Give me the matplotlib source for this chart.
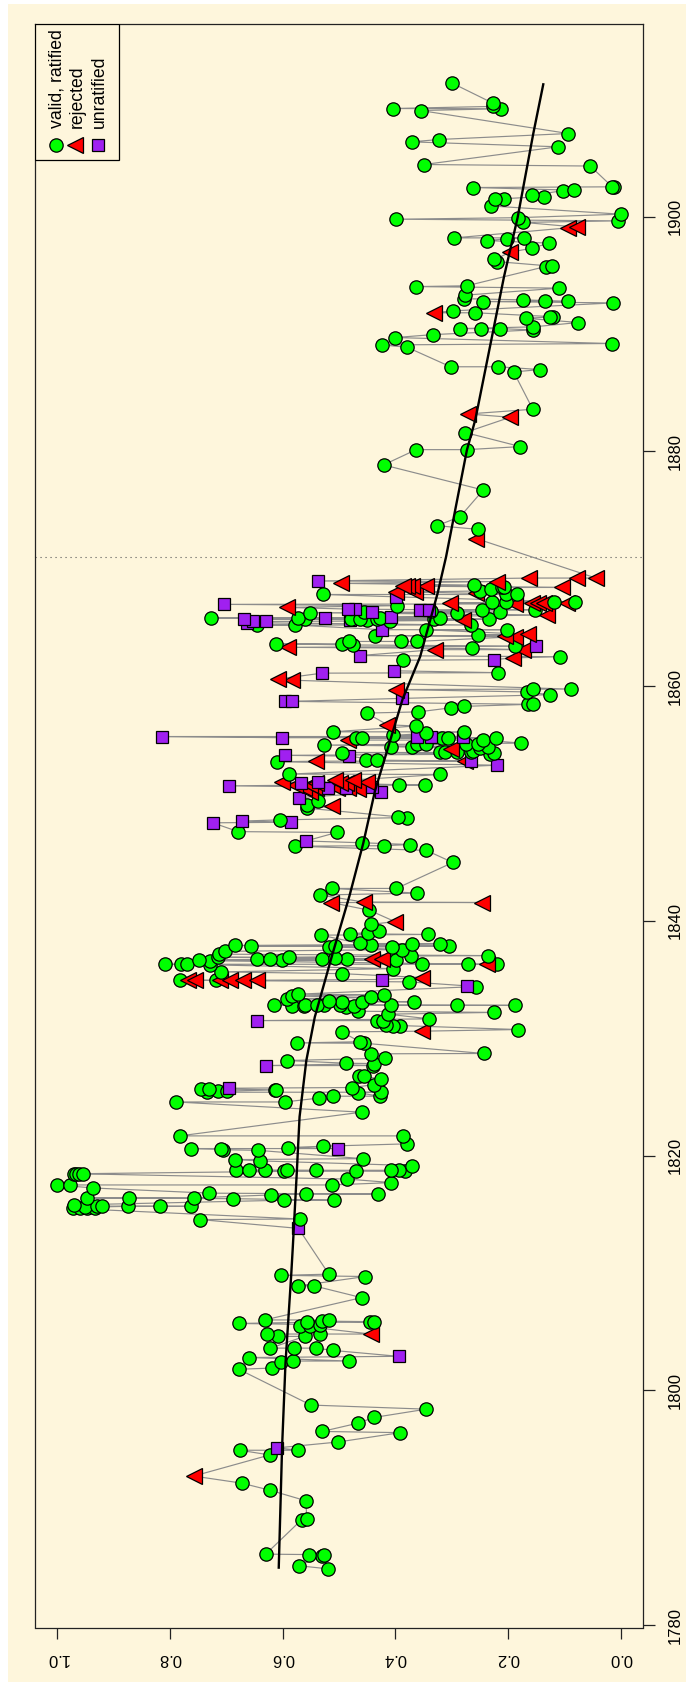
import numpy as np
import matplotlib
matplotlib.use("Agg")
import matplotlib.pyplot as plt
from matplotlib.patches import Rectangle

plt.rcParams['font.family'] = ['Liberation Sans', 'DejaVu Sans']

# (year, value)
valid_ratified = [
(1784.8,.520),(1785.06,.571),(1785.9,.530),(1786.0,.527),(1785.97,.554),(1786.05,.630),(1789.0,.566),(1789.03,.557),
(1790.6,.559),(1791.5,.623),(1792.1,.673),(1794.5,.623),(1794.9,.676),(1794.9,.572),(1795.6,.502),(1796.4,.391),
(1796.5,.530),(1797.2,.467),(1797.7,.437),(1798.4,.345),(1798.75,.550),(1801.8,.678),(1801.9,.619),(1802.4,.603),
(1802.5,.582),(1802.5,.482),(1802.8,.659),(1803.4,.510),(1803.6,.541),(1803.6,.580),(1803.6,.622),(1804.6,.561),
(1804.6,.608),(1804.8,.627),(1804.8,.533),(1805.5,.570),(1805.5,.552),(1805.6,.533),(1805.7,.678),(1805.8,.557),
(1805.9,.530),(1805.8,.445),(1805.85,.437),(1806.0,.518),(1806.0,.632),(1807.9,.460),(1808.9,.544),(1808.9,.572),
(1809.7,.453),(1809.9,.518),(1809.8,.603),
(1814.55,.746),(1814.6,.570),
(1815.5,.973),(1815.5,.960),(1815.5,.948),(1815.5,.933),(1815.6,.950),(1815.7,.930),(1815.7,.921),(1815.8,.971),
(1815.68,.874),(1815.68,.818),(1815.68,.763),(1816.2,.597),(1816.2,.508),(1816.33,.688),(1816.4,.948),(1816.4,.872),
(1816.4,.757),(1816.65,.620),(1816.73,.558),(1816.73,.431),(1816.8,.730),(1817.24,.936),(1817.5,1.000),(1817.5,.977),
(1817.5,.513),(1817.7,.407),(1818.0,.485),(1818.46,.971),(1818.46,.967),(1818.46,.961),(1818.46,.955),(1818.75,.682),
(1818.75,.660),(1818.75,.632),(1818.66,.597),(1818.75,.592),(1818.75,.540),(1818.7,.469),(1818.8,.407),(1818.75,.393),
(1818.7,.382),(1819.15,.370),(1819.66,.684),(1819.55,.641),(1819.74,.458),(1820.6,.763),(1820.54,.710),(1820.5,.706),
(1820.45,.644),(1820.68,.591),(1820.8,.528),(1821.0,.380),(1821.68,.387),(1821.68,.783),(1823.7,.460),(1824.57,.789),
(1824.57,.596),(1824.9,.536),(1825.06,.511),(1825.06,.428),(1825.37,.467),(1825.4,.426),(1825.8,.477),(1826.05,.437),
(1825.7,.745),(1825.4,.735),(1825.7,.731),(1825.5,.714),(1825.5,.698),(1825.6,.614),(1825.6,.611),(1826.56,.426),
(1826.8,.455),(1826.76,.465),(1827.67,.439),(1827.84,.438),(1827.87,.488),(1828.1,.593),(1828.3,.418),(1828.67,.443),
(1828.7,.243),(1829.57,.455),(1829.7,.463),(1829.6,.574),(1830.54,.495),(1830.74,.182),(1831.08,.392),(1831.08,.405),
(1831.1,.417),(1831.5,.432),(1831.5,.422),(1831.65,.340),(1832.05,.413),(1832.2,.224),(1832.8,.615),(1832.75,.583),
(1832.75,.562),(1832.85,.561),(1832.85,.539),(1832.8,.526),(1833.2,.517),(1833.1,.495),(1832.8,.498),(1832.7,.488),
(1832.75,.474),(1832.3,.467),(1833.1,.460),(1833.47,.443),(1833.7,.420),(1832.8,.407),(1833.1,.366),(1832.8,.291),
(1832.8,.187),(1833.35,.592),(1833.6,.584),(1833.75,.573),(1834.4,.257),(1834.8,.376),(1835.5,.495),(1834.94,.782),
(1834.94,.719),(1835.65,.709),(1836.3,.809),(1836.3,.781),(1836.3,.769),(1836.25,.729),(1836.7,.749),(1836.6,.729),
(1836.9,.714),(1837.16,.713),(1837.4,.703),(1837.9,.685),(1837.84,.657),(1836.73,.645),(1836.73,.622),(1836.7,.601),
(1836.9,.588),(1836.73,.530),(1836.8,.507),(1836.73,.485),(1836.65,.399),(1835.93,.404),(1836.3,.352),(1836.3,.271),
(1837.04,.235),(1836.3,.219),(1837.8,.518),(1837.85,.507),(1838.07,.463),(1837.98,.444),(1837.8,.406),(1837.55,.389),
(1837.0,.373),(1838.0,.371),(1838.05,.320),(1837.85,.304),(1838.78,.532),(1838.9,.481),(1838.84,.342),(1839.0,.448),
(1839.12,.429),(1839.69,.444),(1840.9,.446),(1842.2,.534),(1842.36,.361),(1842.76,.513),(1842.76,.398),(1844.97,.298),
(1846.0,.345),(1846.5,.374),(1846.4,.420),(1846.65,.459),(1846.36,.578),(1847.53,.504),(1847.6,.679),(1848.6,.605),
(1848.86,.395),(1848.8,.379),(1850.2,.537),(1849.9,.557),(1849.6,.557),(1851.6,.393),(1851.56,.348),(1852.47,.320),
(1852.5,.588),(1853.55,.610),(1853.7,.452),(1853.7,.433),(1854.34,.495),(1854.97,.526),(1854.83,.407),(1854.83,.371),
(1855.05,.362),(1855.1,.346),(1854.4,.321),(1854.4,.312),(1854.4,.291),(1854.4,.265),(1854.2,.232),(1854.34,.225),
(1854.5,.262),(1854.7,.250),(1854.83,.235),(1855.05,.274),(1855.4,.244),(1855.6,.222),(1855.1,.253),(1855.14,.177),
(1855.55,.470),(1855.6,.459),(1855.8,.404),(1855.96,.346),(1855.55,.317),(1855.6,.306),(1856.1,.279),(1856.1,.511),
(1856.6,.364),(1857.7,.451),(1857.8,.359),(1858.15,.301),(1858.27,.278),(1858.44,.164),(1858.44,.156),(1859.26,.126),
(1859.5,.166),(1859.74,.155),(1859.74,.089),(1861.14,.217),(1862.2,.386),(1862.5,.107),(1863.2,.264),(1863.4,.188),
(1863.6,.611),(1863.6,.495),(1863.8,.482),(1863.5,.475),(1863.8,.390),(1863.8,.362),(1864.3,.436),(1864.35,.253),
(1864.8,.346),(1864.8,.201),(1865.2,.578),(1865.2,.646),(1865.2,.265),(1865.7,.560),(1865.8,.572),(1865.8,.728),
(1865.7,.478),(1865.75,.463),(1865.65,.451),(1865.8,.428),(1865.75,.433),(1865.55,.410),(1865.7,.331),(1865.8,.321),
(1865.7,.233),(1866.25,.552),(1866.28,.456),(1866.25,.290),(1866.4,.336),(1866.3,.215),(1866.5,.247),(1866.5,.152),
(1866.85,.397),(1867.16,.228),(1867.16,.203),(1867.2,.118),(1867.16,.081),(1867.8,.528),(1867.8,.204),(1867.8,.184),
(1868.1,.249),(1868.3,.231),(1868.4,.211),(1868.45,.208),(1868.6,.260),
(1873.35,.253),(1873.66,.326),(1874.43,.285),(1876.7,.244),(1878.84,.421),(1880.14,.363),(1880.14,.273),(1880.4,.178),
(1881.6,.276),(1883.58,.156),(1886.96,.143),(1886.76,.190),(1887.2,.217),(1887.2,.302),(1888.86,.379),(1889.06,.423),
(1889.18,.016),(1889.69,.400),(1889.94,.333),(1890.34,.155),(1890.6,.155),(1890.45,.214),(1890.45,.248),(1890.45,.286),
(1890.97,.075),(1891.33,.168),(1891.48,.126),(1891.45,.120),(1891.96,.298),(1891.8,.258),(1892.64,.013),(1892.78,.093),
(1892.84,.134),(1892.9,.174),(1892.76,.245),(1893.0,.279),(1893.3,.276),(1893.9,.109),(1894.1,.273),(1894.03,.363),
(1895.74,.133),(1895.77,.122),(1896.16,.220),(1896.34,.224),(1897.3,.158),(1897.73,.127),(1898.18,.171),(1898.1,.202),
(1897.95,.237),(1898.18,.295),(1899.5,.173),(1899.63,.005),(1899.77,.398),(1899.9,.183),(1900.2,.000),(1900.9,.231),
(1901.48,.207),(1901.48,.223),(1901.82,.158),(1901.7,.136),(1902.2,.102),(1902.24,.083),(1902.53,.012),(1902.53,.015),
(1902.47,.263),(1904.3,.054),(1904.43,.349),(1905.94,.111),(1906.36,.371),(1906.56,.323),(1907.07,.093),(1909.03,.355),
(1909.18,.212),(1909.2,.405),(1909.38,.226),(1909.66,.227),(1911.36,.299),
]

rejected = [
(1792.7,.758),(1804.8,.444),(1830.6,.352),(1834.94,.768),(1834.94,.756),(1834.94,.711),(1834.94,.694),(1834.94,.670),
(1834.94,.646),(1835.17,.352),(1836.73,.442),(1836.73,.423),(1836.3,.238),(1839.94,.401),(1841.56,.514),(1841.6,.456),
(1841.56,.246),(1849.75,.512),(1851.8,.602),(1852.0,.507),(1852.0,.476),(1851.85,.451),(1851.7,.487),(1851.7,.498),
(1851.55,.578),(1851.55,.552),(1851.7,.540),(1851.3,.563),(1851.0,.552),(1851.3,.540),(1851.3,.504),(1851.2,.466),
(1851.3,.484),(1853.6,.540),(1853.6,.277),(1854.6,.302),(1855.4,.484),(1856.7,.414),(1859.7,.398),(1860.6,.609),
(1860.5,.584),(1862.4,.191),(1863.1,.330),(1863.1,.174),(1863.3,.590),(1864.2,.188),(1864.3,.206),(1864.4,.164),
(1865.6,.280),(1866.05,.130),(1866.7,.593),(1867.0,.188),(1867.1,.303),(1867.1,.158),(1867.1,.146),(1867.1,.137),
(1867.1,.096),(1867.9,.256),(1868.0,.365),(1868.0,.398),(1868.4,.104),(1868.5,.345),(1868.5,.371),(1868.5,.380),
(1868.5,.386),(1868.75,.497),(1868.9,.219),(1869.2,.162),(1869.2,.077),(1869.2,.044),(1872.56,.256),(1882.9,.196),
(1883.18,.271),(1891.8,.331),(1896.96,.196),(1899.03,.094),(1899.1,.078),
]

unratified = [
(1795.1,.610),(1802.9,.394),(1813.8,.572),(1820.6,.502),(1825.74,.695),(1827.67,.630),(1831.5,.646),(1834.46,.273),
(1835.0,.424),(1846.8,.559),(1848.4,.585),(1848.35,.724),(1848.5,.672),(1850.5,.571),(1851.5,.695),(1851.76,.568),
(1851.8,.537),(1851.3,.519),(1851.3,.487),(1851.36,.442),(1850.94,.426),(1853.26,.219),(1853.6,.266),(1854.1,.596),
(1854.03,.482),(1855.7,.815),(1855.6,.601),(1855.7,.362),(1855.7,.336),(1855.7,.280),(1858.7,.596),(1858.7,.583),
(1858.95,.388),(1861.1,.530),(1861.3,.402),(1862.25,.225),(1862.6,.463),(1863.4,.151),(1864.8,.423),(1865.4,.663),
(1865.5,.652),(1865.5,.630),(1865.7,.669),(1865.6,.481),(1865.8,.525),(1865.9,.407),(1866.28,.441),(1866.5,.356),
(1866.5,.340),(1866.56,.484),(1866.55,.472),(1866.96,.705),(1867.6,.398),(1868.95,.537),
]

smooth_year = [1784.8,1795.2,1802.3,1809.7,1812.2,1818.5,1823.3,1828.1,1831.8,1837.1,1842.2,1846.6,1851.1,1853.95,
               1858.9,1862.5,1867.9,1871.0,1880.1,1882.7,1894.9,1899.9,1907.1,1911.36]
smooth_value = [.607,.601,.595,.585,.582,.575,.570,.558,.543,.512,.481,.457,.436,.418,
                .387,.356,.325,.310,.273,.258,.207,.183,.155,.137]

divider_year = 1871.0
legend_labels = ['valid, ratified', 'rejected', 'unratified']
year_ticks = [1780, 1800, 1820, 1840, 1860, 1880, 1900]
value_ticks = [0.0, 0.2, 0.4, 0.6, 0.8, 1.0]

W, H = 686, 1682
fig = plt.figure(figsize=(W/100, H/100), dpi=100, facecolor='white')
fig.add_artist(Rectangle((8/W, 0), 1-8/W, 1-4/H, transform=fig.transFigure,
                         facecolor='#FEF6DC', edgecolor='none', zorder=-5))
L, R_, T, B = 35, 643, 24, 1627.5
ax = fig.add_axes([L/W, 1-B/H, (R_-L)/W, (B-T)/H])
ax.patch.set_alpha(0)
ax.set_xlim(1.0396, -0.0396)
ax.set_ylim(1779.8, 1916.4)

STYLE = {
    'c': dict(marker='o', ms=9.6, mfc='#00FF00'),
    't': dict(marker='<', ms=11.5, mfc='#FF0000'),
    's': dict(marker='s', ms=8.2, mfc='#A020F0'),
}
rows = ([(y, v, 'c') for y, v in valid_ratified] +
        [(y, v, 't') for y, v in rejected] +
        [(y, v, 's') for y, v in unratified])
rows.sort(key=lambda r: r[0])
ax.plot([r[1] for r in rows], [r[0] for r in rows], color='#8c8c8c', lw=0.85, zorder=2)
for i, (y, v, k) in enumerate(rows):
    ax.plot([v], [y], ls='none', mec='black', mew=0.9, zorder=3+i*0.001, **STYLE[k])

ax.plot(smooth_value, smooth_year, color='black', lw=1.7, zorder=5, solid_capstyle='butt')
ax.axhline(divider_year, color='#555555', lw=0.8, ls=(0, (1, 3.5)), zorder=1.5)

for s in ax.spines.values():
    s.set_linewidth(0.9)
    s.set_color('#222222')
ax.xaxis.tick_bottom()
ax.yaxis.tick_right()
ax.set_xticks(value_ticks)
ax.set_xticklabels([f'{t:.1f}' for t in value_ticks], rotation=180, fontsize=12, ha='center', va='center')
ax.set_yticks(year_ticks)
ax.set_yticklabels([str(t) for t in year_ticks], rotation=90, fontsize=12, ha='center', va='center')
ax.tick_params(axis='x', length=8, width=0.9, pad=14, color='#222222')
ax.tick_params(axis='y', length=8.5, width=0.9, pad=15, color='#222222')

# legend box, turned with the chart
def axx(px): return (px-L)/(R_-L)
def axy(py): return (B-py)/(B-T)
ax.add_patch(Rectangle((0, axy(160)), axx(119), axy(24)-axy(160), transform=ax.transAxes,
                       fc='#FEF6DC', ec='black', lw=0.9, zorder=10))
for lab, k, mx, tx in zip(legend_labels, 'cts', (56, 75, 98), (57, 77, 99)):
    ax.plot([axx(mx)], [axy(145)], transform=ax.transAxes, ls='none', mec='black', mew=0.9,
            zorder=11, clip_on=False, **STYLE[k])
    ax.text(axx(tx), axy(128), lab, transform=ax.transAxes, rotation=90, fontsize=12.7,
            ha='center', va='bottom', zorder=11)

fig.savefig('out.png', dpi=100, facecolor=fig.get_facecolor())
